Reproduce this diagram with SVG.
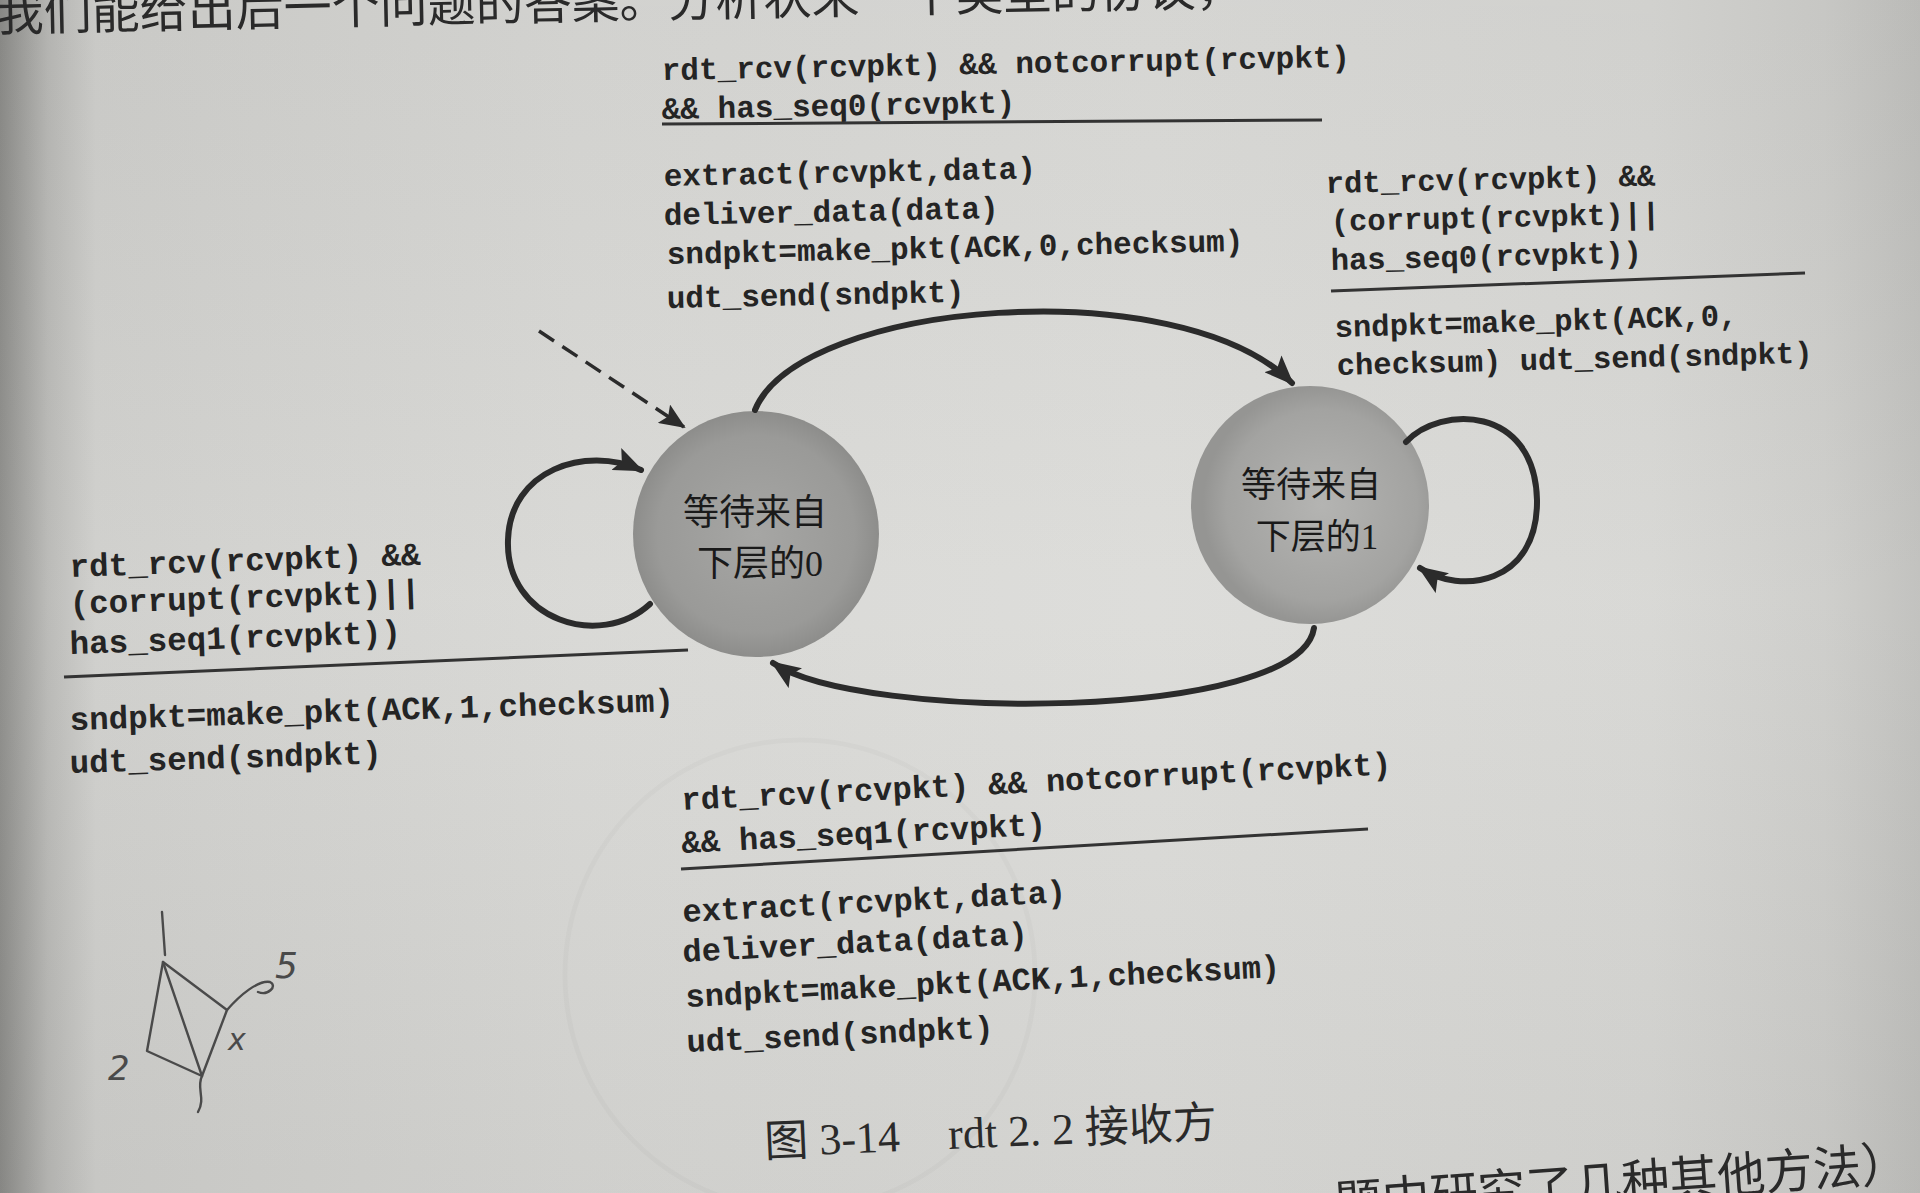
<svg xmlns="http://www.w3.org/2000/svg" width="1920" height="1193" viewBox="0 0 1920 1193">
  <defs>
    <linearGradient id="page" x1="0" y1="0" x2="1" y2="0">
      <stop offset="0" stop-color="#8c8c89"/>
      <stop offset="0.025" stop-color="#b9b9b6"/>
      <stop offset="0.05" stop-color="#cfcfcc"/>
      <stop offset="0.3" stop-color="#d8d8d5"/>
      <stop offset="0.6" stop-color="#dcdcd9"/>
      <stop offset="0.86" stop-color="#d7d7d4"/>
      <stop offset="0.95" stop-color="#cdcdca"/>
      <stop offset="1" stop-color="#c0c0bd"/>
    </linearGradient>
    <linearGradient id="shade" x1="0" y1="0" x2="0" y2="1">
      <stop offset="0" stop-color="#000" stop-opacity="0.03"/>
      <stop offset="0.5" stop-color="#fff" stop-opacity="0.04"/>
      <stop offset="1" stop-color="#000" stop-opacity="0.04"/>
    </linearGradient>
    <radialGradient id="stateFill0" cx="0.5" cy="0.5" r="0.5">
      <stop offset="0" stop-color="#a6a6a4"/>
      <stop offset="0.8" stop-color="#9a9a98"/>
      <stop offset="1" stop-color="#8d8d8b"/>
    </radialGradient>
    <radialGradient id="stateFill1" cx="0.55" cy="0.5" r="0.5">
      <stop offset="0" stop-color="#b4b4b2"/>
      <stop offset="0.8" stop-color="#a3a3a1"/>
      <stop offset="1" stop-color="#959593"/>
    </radialGradient>
    <marker id="arrow" viewBox="0 0 30 24" refX="27" refY="12" markerWidth="30" markerHeight="24" markerUnits="userSpaceOnUse" orient="auto">
      <path d="M0,0 L30,12 L0,24 L6,12 Z" fill="#2b2b2b"/>
    </marker>
    <marker id="arrowSmall" viewBox="0 0 26 22" refX="24" refY="11" markerWidth="26" markerHeight="22" markerUnits="userSpaceOnUse" orient="auto">
      <path d="M0,0 L26,11 L0,22 L5,11 Z" fill="#2b2b2b"/>
    </marker>
    <style>
      .code { font-family: "Liberation Mono", "Courier New", monospace; font-weight: bold; fill: #242424; }
      .t-top { font-size: 31px; }
      .t-right { font-size: 30.5px; }
      .t-left { font-size: 32.5px; }
      .t-bottom { font-size: 32px; }
      .rule { stroke: #333; stroke-width: 3; fill: none; }
      .edge { stroke: #2b2b2b; stroke-width: 6; fill: none; stroke-linecap: round; }
      .init { stroke: #2b2b2b; stroke-width: 3.5; fill: none; stroke-dasharray: 18 10; }
      .state-label { font-family: "Liberation Serif", "Noto Sans CJK SC", serif; fill: #1a1a1a; text-anchor: middle; }
      .page-text { font-family: "Liberation Serif", "Noto Sans CJK SC", serif; fill: #2a2a2a; }
      .ink { stroke: #4a4a4a; stroke-width: 2.4; fill: none; stroke-linecap: round; stroke-linejoin: round; }
      .ink-digit { font-family: "DejaVu Sans", sans-serif; font-style: italic; font-weight: 300; fill: #4a4a4a; }
      .ghost { stroke: #000; stroke-opacity: 0.02; stroke-width: 5; fill: none; }
    </style>
  </defs>

  <!-- page -->
  <rect x="0" y="0" width="1920" height="1193" fill="url(#page)"/>
  <rect x="0" y="0" width="1920" height="1193" fill="url(#shade)"/>

  <!-- faint print from the reverse side of the sheet -->
  <circle class="ghost" cx="800" cy="975" r="235"/>

  <!-- running text of the page, cut by the edges -->
  <text class="page-text" x="-4" y="31" font-size="48" transform="rotate(-1.2 0 31)">我们能给出后一个问题的答案。分析状来一个类型的协议，</text>
  <text class="page-text" x="1910" y="1180" font-size="48" text-anchor="end" transform="rotate(-4 1910 1180)">题中研究了几种其他方法）</text>

  <!-- states -->
  <g id="state-wait0">
    <circle cx="756" cy="534" r="123" fill="url(#stateFill0)"/>
    <text class="state-label" x="755" y="525" font-size="36">等待来自</text>
    <text class="state-label" x="760" y="576" font-size="36">下层的0</text>
  </g>
  <g id="state-wait1">
    <circle cx="1310" cy="505" r="119" fill="url(#stateFill1)"/>
    <text class="state-label" x="1311" y="497" font-size="35">等待来自</text>
    <text class="state-label" x="1317" y="549" font-size="35">下层的1</text>
  </g>

  <!-- transitions -->
  <g id="connectors">
    <path class="init" d="M539,331 L684,427" marker-end="url(#arrowSmall)"/>
    <path class="edge" d="M755,410 C800,300 1180,270 1292,383" marker-end="url(#arrow)"/>
    <path class="edge" d="M1314,628 C1300,722 860,722 773,663" marker-end="url(#arrow)"/>
    <path class="edge" d="M650,604 C600,650 505,620 508,540 C510,470 585,445 641,470" marker-end="url(#arrow)"/>
    <path class="edge" d="M1406,442 C1440,405 1535,405 1537,500 C1538,585 1460,595 1420,568" marker-end="url(#arrow)"/>
  </g>

  <!-- wait0 -> wait1 -->
  <g id="label-wait0-to-wait1">
    <text class="code t-top" x="662" y="80" transform="rotate(-1.1 662 80)">rdt_rcv(rcvpkt) &amp;&amp; notcorrupt(rcvpkt)</text>
    <text class="code t-top" x="662" y="119" transform="rotate(-1.1 662 119)">&amp;&amp; has_seq0(rcvpkt)</text>
    <line class="rule" x1="662" y1="124" x2="1322" y2="120"/>
    <text class="code t-top" x="664" y="186" transform="rotate(-1.2 664 186)">extract(rcvpkt,data)</text>
    <text class="code t-top" x="664" y="225" transform="rotate(-1.2 664 225)">deliver_data(data)</text>
    <text class="code t-top" x="667" y="264" transform="rotate(-1.3 667 264)">sndpkt=make_pkt(ACK,0,checksum)</text>
    <text class="code t-top" x="667" y="308" transform="rotate(-1.2 667 308)">udt_send(sndpkt)</text>
  </g>

  <!-- wait1 self-loop -->
  <g id="label-wait1-loop">
    <text class="code t-right" x="1326" y="193" transform="rotate(-1.3 1326 193)">rdt_rcv(rcvpkt) &amp;&amp;</text>
    <text class="code t-right" x="1331" y="231" transform="rotate(-1.3 1331 231)">(corrupt(rcvpkt)||</text>
    <text class="code t-right" x="1331" y="270" transform="rotate(-1.4 1331 270)">has_seq0(rcvpkt))</text>
    <line class="rule" x1="1331" y1="291" x2="1805" y2="273"/>
    <text class="code t-right" x="1335" y="337" transform="rotate(-1.7 1335 337)">sndpkt=make_pkt(ACK,0,</text>
    <text class="code t-right" x="1337" y="375" transform="rotate(-1.5 1337 375)">checksum) udt_send(sndpkt)</text>
  </g>

  <!-- wait0 self-loop -->
  <g id="label-wait0-loop">
    <text class="code t-left" x="70" y="577" transform="rotate(-2 70 577)">rdt_rcv(rcvpkt) &amp;&amp;</text>
    <text class="code t-left" x="70" y="614" transform="rotate(-2 70 614)">(corrupt(rcvpkt)||</text>
    <text class="code t-left" x="70" y="654" transform="rotate(-2 70 654)">has_seq1(rcvpkt))</text>
    <line class="rule" x1="64" y1="677" x2="688" y2="650"/>
    <text class="code t-left" x="70" y="730" transform="rotate(-1.8 70 730)">sndpkt=make_pkt(ACK,1,checksum)</text>
    <text class="code t-left" x="70" y="773" transform="rotate(-1.8 70 773)">udt_send(sndpkt)</text>
  </g>

  <!-- wait1 -> wait0 -->
  <g id="label-wait1-to-wait0">
    <text class="code t-bottom" x="682" y="810" transform="rotate(-2.9 682 810)">rdt_rcv(rcvpkt) &amp;&amp; notcorrupt(rcvpkt)</text>
    <text class="code t-bottom" x="682" y="853" transform="rotate(-2.9 682 853)">&amp;&amp; has_seq1(rcvpkt)</text>
    <line class="rule" x1="681" y1="869" x2="1368" y2="829"/>
    <text class="code t-bottom" x="683" y="922" transform="rotate(-3 683 922)">extract(rcvpkt,data)</text>
    <text class="code t-bottom" x="683" y="962" transform="rotate(-3 683 962)">deliver_data(data)</text>
    <text class="code t-bottom" x="686" y="1007" transform="rotate(-2.9 686 1007)">sndpkt=make_pkt(ACK,1,checksum)</text>
    <text class="code t-bottom" x="687" y="1052" transform="rotate(-2.7 687 1052)">udt_send(sndpkt)</text>
  </g>

  <!-- caption -->
  <text class="page-text" x="765" y="1157" font-size="44" transform="rotate(-2.5 765 1157)">图 3-14<tspan x="949">rdt 2. 2 接收方</tspan></text>

  <!-- pencil sketch in the margin -->
  <g id="margin-sketch">
    <path class="ink" d="M162,912 L165,955"/>
    <path class="ink" d="M163,962 L147,1051 L202,1076 L227,1010 Z"/>
    <path class="ink" d="M163,962 L202,1076"/>
    <path class="ink" d="M227,1010 C240,995 258,980 270,982 C278,986 268,996 258,992"/>
    <path class="ink" d="M202,1076 C196,1088 206,1098 198,1112"/>
    <text class="ink-digit" x="108" y="1080" font-size="34">2</text>
    <text class="ink-digit" x="228" y="1050" font-size="30">x</text>
    <text class="ink-digit" x="275" y="978" font-size="36">5</text>
  </g>
</svg>
